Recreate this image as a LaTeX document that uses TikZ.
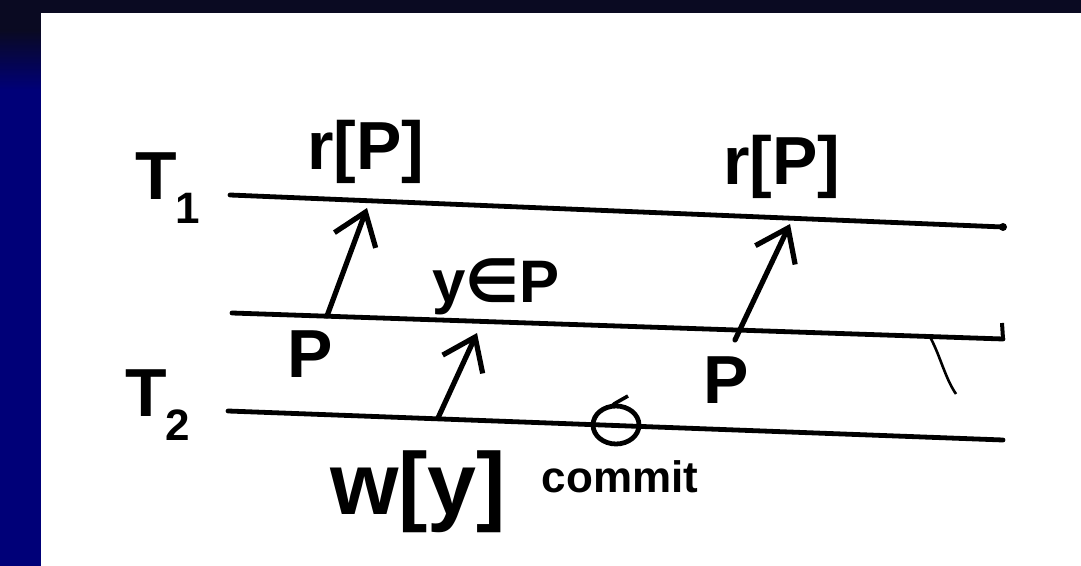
\documentclass[tikz,border=0pt]{standalone}
\usepackage{fontspec}
\setmainfont{Liberation Sans}
\newfontfamily\djv{DejaVu Sans}
\usetikzlibrary{arrows.meta,shapes.geometric}
\definecolor{bgdark}{HTML}{0A0A22}
\definecolor{bgblue}{HTML}{000078}
\tikzset{
  timeline/.style={line width=2.4pt, line cap=round},
  msg/.style={line width=2.6pt, line cap=round, line join=round, -{Straight Barb[length=15pt,width=22pt,line width=2.6pt]}},
  lbl/.style={inner sep=0pt, text=black},
  big/.style={lbl, font=\fontsize{34}{36}\selectfont\bfseries},
  mid/.style={lbl, font=\fontsize{30}{32}\selectfont\bfseries},
  huge/.style={lbl, font=\fontsize{44}{46}\selectfont\bfseries},
  small/.style={lbl, font=\fontsize{22}{24}\selectfont\bfseries},
}
\begin{document}
\begin{tikzpicture}[x=0.5pt,y=-0.5pt]
\useasboundingbox (0,0) rectangle (1081,566);
% background
\fill[bgdark] (0,0) rectangle (1081,566);
\shade[top color=bgdark, bottom color=bgblue] (0,30) rectangle (41,90);
\fill[bgblue] (0,90) rectangle (41,566);
\fill[white] (41,13) rectangle (1081,566);

% timelines
\coordinate (t1s) at (230,195); \coordinate (t1e) at (1003,227);
\coordinate (ms)  at (232,313); \coordinate (me)  at (1003,339);
\coordinate (t2s) at (228,411); \coordinate (t2e) at (1003,440);
\draw[timeline] (t1s) -- (t1e);
\draw[timeline] (ms) -- (me);
\draw[timeline] (t2s) -- (t2e);
% end ticks
\coordinate (metick) at (1002,323);
\draw[line width=2pt] (me) -- (metick);
\fill (t1e) circle (4);

% stray stroke
\coordinate (s1) at (930,337); \coordinate (s2) at (956,394);
\draw[line width=1.3pt] (s1) .. controls (940,355) and (945,378) .. (s2);

% arrows
\coordinate (a1t) at (327,316); \coordinate (a1h) at (367,208);
\coordinate (a2t) at (438,418); \coordinate (a2h) at (477,333);
\coordinate (a3t) at (735,340); \coordinate (a3h) at (790,224);
\draw[msg] (a1t) -- (a1h);
\draw[msg] (a2t) -- (a2h);
\draw[msg] (a3t) -- (a3h);

% commit marker
\node[draw, line width=2.4pt, ellipse, minimum width=23pt, minimum height=19pt, inner sep=0pt] (cm) at (616,425) {};
\coordinate (cmtick) at (628,396);
\draw[line width=1.8pt] (cm.north) .. controls (612,405) .. (cmtick);

% labels
\node[big] (lt1) at (168,188) {T\kern-1pt\raisebox{-12pt}{\fontsize{22}{22}\selectfont 1}};
\node[big] (lt2) at (158,405) {T\kern-1pt\raisebox{-12pt}{\fontsize{22}{22}\selectfont 2}};
\node[big] (rp1) at (366,152) {r[P]};
\node[big] (rp2) at (782,167) {r[P]};
\node[mid] (yep) at (496,287) {y{\djv\bfseries ∈}P};
\node[big] (p1) at (310,354) {P};
\node[big] (p2) at (726,380) {P};
\node[huge] (wy) at (418,492) {w[y]};
\node[small] (cmt) at (620,477) {commit};
\end{tikzpicture}
\end{document}
